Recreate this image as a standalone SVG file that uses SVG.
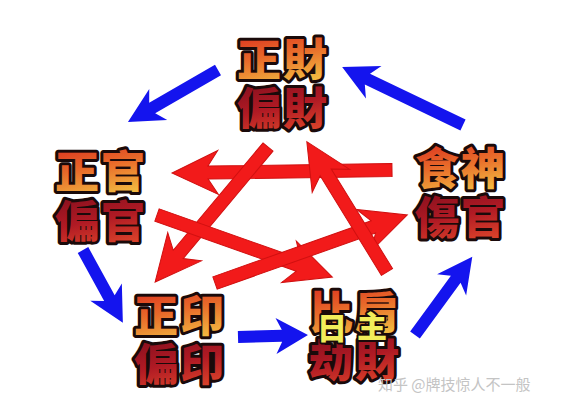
<svg xmlns="http://www.w3.org/2000/svg" width="561" height="412" viewBox="0 0 561 412">
<defs>
<linearGradient id="g1" x1="0" y1="0" x2="0.3" y2="1">
<stop offset="0" stop-color="#d8201c"/>
<stop offset="0.55" stop-color="#e86a2a"/>
<stop offset="1" stop-color="#f2b840"/>
</linearGradient>
<linearGradient id="g2" x1="0" y1="0" x2="0.3" y2="1">
<stop offset="0" stop-color="#7a0c1c"/>
<stop offset="0.6" stop-color="#b01a24"/>
<stop offset="1" stop-color="#d8402a"/>
</linearGradient>
</defs>
<style>
.t{font-family:"Noto Sans CJK TC","Noto Sans CJK SC",sans-serif;font-weight:900;font-size:44px;text-anchor:middle;stroke:#1a0a0a;stroke-width:6;stroke-linejoin:round;paint-order:stroke;letter-spacing:2px}
.r1{fill:url(#g1)}
.r2{fill:url(#g2)}
.y{font-family:"Noto Sans CJK TC","Noto Sans CJK SC",sans-serif;font-weight:900;font-size:30px;text-anchor:middle;fill:#f2ee5a;stroke:#1a0a0a;stroke-width:4;stroke-linejoin:round;paint-order:stroke}
.blue{fill:#1414ee}
.red{fill:#f21a1a;stroke:#d01010;stroke-width:1}
.wm{font-family:"Noto Sans CJK SC",sans-serif;font-size:15px;fill:#c4c4c4}
</style>
<rect width="561" height="412" fill="#ffffff"/>
<g id="connectors">
<g transform="translate(218,70) rotate(150)"><polygon class="blue" points="0,-6 76,-6 69,-18 104,0 69,18 76,6 0,6"/></g>
<g transform="translate(463,125) rotate(205.6)"><polygon class="blue" points="0,-6 106,-6 99,-18 134,0 99,18 106,6 0,6"/></g>
<g transform="translate(83,250) rotate(61.3)"><polygon class="blue" points="0,-6 55,-6 48,-18 83,0 48,18 55,6 0,6"/></g>
<g transform="translate(415,335) rotate(-53.8)"><polygon class="blue" points="0,-6 69,-6 62,-18 97,0 62,18 69,6 0,6"/></g>
<g transform="translate(238,337) rotate(-1.6)"><polygon class="blue" points="0,-6 44,-6 38,-18 70,0 38,18 44,6 0,6"/></g>
<g transform="translate(392,170) rotate(179.2)"><polygon class="red" points="0,-6.5 184,-6.5 174,-22 220,0 174,22 184,6.5 0,6.5"/></g>
<g transform="translate(268,147) rotate(129.9)"><polygon class="red" points="0,-6.5 140,-6.5 130,-22 176,0 130,22 140,6.5 0,6.5"/></g>
<g transform="translate(157,215) rotate(19.5)"><polygon class="red" points="0,-6.5 150,-6.5 140,-22 186,0 140,22 150,6.5 0,6.5"/></g>
<g transform="translate(215,283) rotate(-19.5)"><polygon class="red" points="0,-6.5 168,-6.5 158,-22 204,0 158,22 168,6.5 0,6.5"/></g>
<g transform="translate(387,272) rotate(-121.6)"><polygon class="red" points="0,-6.5 117,-6.5 107,-22 153,0 107,22 117,6.5 0,6.5"/></g>
</g>
<g id="node-caisheng">
<text class="t r1" x="283" y="76">正財</text>
<text class="t r2" x="283" y="125">偏財</text>
</g>
<g id="node-guansha">
<text class="t r1" x="101" y="188">正官</text>
<text class="t r2" x="101" y="238">偏官</text>
</g>
<g id="node-shishang">
<text class="t r1" x="461" y="185">食神</text>
<text class="t r2" x="461" y="234">傷官</text>
</g>
<g id="node-yinxiao">
<text class="t r1" x="180" y="332">正印</text>
<text class="t r2" x="180" y="381">偏印</text>
</g>
<g id="node-bijie">
<text class="t r1" x="355" y="329">比肩</text>
<text class="t r2" x="355" y="377">劫財</text>
<text class="y" x="332" y="339">日</text>
<text class="y" x="372" y="337">主</text>
</g>
<text class="wm" x="378" y="390">知乎 @牌技惊人不一般</text>
</svg>
